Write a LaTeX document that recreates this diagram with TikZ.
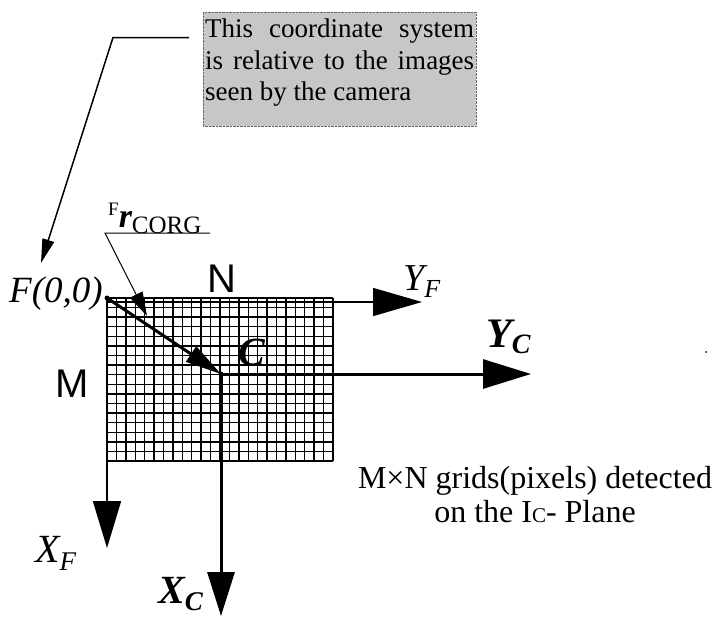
\documentclass[tikz,border=0pt]{standalone}
\usepackage{fontspec}
\setmainfont{Liberation Serif}
\newfontfamily\labelsans{Liberation Sans}
\usetikzlibrary{arrows.meta}

\begin{document}
\begin{tikzpicture}[x=1pt,y=-1pt,
  lbl/.style={inner sep=0pt,anchor=base west},
  gridline/.style={line width=1.4pt},
  bigaxis/.style={line width=3pt,-{Triangle[length=44pt,width=27pt]}},
  leader/.style={line width=1.5pt,-{Triangle[length=24pt,width=12pt]}}]
  \useasboundingbox (0,0) rectangle (717,616);

  % note box
  \node[draw=black!60,densely dotted,fill=black!22,minimum width=273pt,minimum height=114pt,
        anchor=north west,inner sep=0pt] (note) at (203,12) {};
  \node[lbl] (notetext) at (205,37.5) {\parbox[t]{269pt}{\fontsize{27}{31.6}\selectfont
    This coordinate system\linebreak is relative to the images\linebreak seen by the camera}};

  % points of the frame
  \coordinate (F) at (107,298);
  \coordinate (C) at (221,374);
  \coordinate (XF) at (107,548);
  \coordinate (YF) at (422,302);
  \coordinate (XC) at (221,616);
  \coordinate (YC) at (531,374);

  % pixel grid (24 x 17)
  \foreach \i in {0,...,24} \draw[gridline] (107+\i*9.4167,298) -- ++(0,163);
  \foreach \j in {0,...,17} \draw[gridline] (107,298+\j*9.588) -- ++(226,0);

  % axes
  \draw[line width=1.8pt,-{Triangle[length=47pt,width=28pt]}] (F) -- (XF);
  \draw[line width=1.5pt,-{Triangle[length=49pt,width=28pt]}] (F |- YF) -- (YF);
  \draw[bigaxis] (C) -- (XC);
  \draw[bigaxis,-{Triangle[length=48pt,width=29pt]}] (C) -- (YC);
  \draw[line width=3pt,-{Triangle[length=36pt,width=18pt]}] (F) -- (C);
  \fill (F) circle (2.5);
  \fill (C) circle (2.5);

  % labels
  \node[lbl] (Flabel) at (9,302) {\fontsize{37}{37}\selectfont\itshape F(0,0)};
  \node[anchor=base,inner sep=0pt] (N) at (222,292) {\labelsans\fontsize{40}{40}\selectfont N};
  \node[anchor=base,inner sep=0pt] (M) at (72,397) {\labelsans\fontsize{40}{40}\selectfont M};
  \node[lbl] (Clabel) at (238,365) {\fontsize{40}{40}\selectfont\bfseries\itshape C};
  \node[lbl] (YFlabel) at (403,290) {\fontsize{38}{38}\selectfont\itshape Y\raisebox{-7pt}{\fontsize{26}{26}\selectfont F}};
  \node[lbl] (YClabel) at (486,347) {\fontsize{42}{42}\selectfont\bfseries\itshape Y\raisebox{-6pt}{\fontsize{28}{28}\selectfont C}};
  \node[lbl] (XFlabel) at (35,562) {\fontsize{40}{40}\selectfont\itshape X\raisebox{-8pt}{\fontsize{27}{27}\selectfont F}};
  \node[lbl] (XClabel) at (158,603) {\fontsize{40}{40}\selectfont\bfseries\itshape X\raisebox{-7pt}{\fontsize{27}{27}\selectfont C}};
  \node[lbl] (rcorg) at (108,215) {\fontsize{19}{19}\selectfont F\raisebox{-12pt}{\fontsize{34}{34}\selectfont\bfseries\itshape r}\raisebox{-18pt}{\fontsize{25}{25}\selectfont CORG}};

  % caption
  \node[anchor=base,inner sep=0pt,align=center,font=\fontsize{32}{34}\selectfont] (caption) at (535,522)
    {M×N grids(pixels) detected\\on the I{\fontsize{21}{21}\selectfont C}- Plane};

  % leader lines
  \coordinate (lead) at (189,37.5);
  \coordinate (leadbend) at (113,37.5);
  \coordinate (Ftip) at (41,263);
  \draw[leader] (lead) -- (leadbend) -- (Ftip);
  \coordinate (ulend) at (210,233);
  \coordinate (ulbend) at (105,233);
  \coordinate (rtip) at (147,316);
  \draw[line width=1pt,-{Triangle[length=24pt,width=14pt]}] (ulend) -- (ulbend) -- (rtip);

  \fill (706,352) circle (1);
\end{tikzpicture}
\end{document}
